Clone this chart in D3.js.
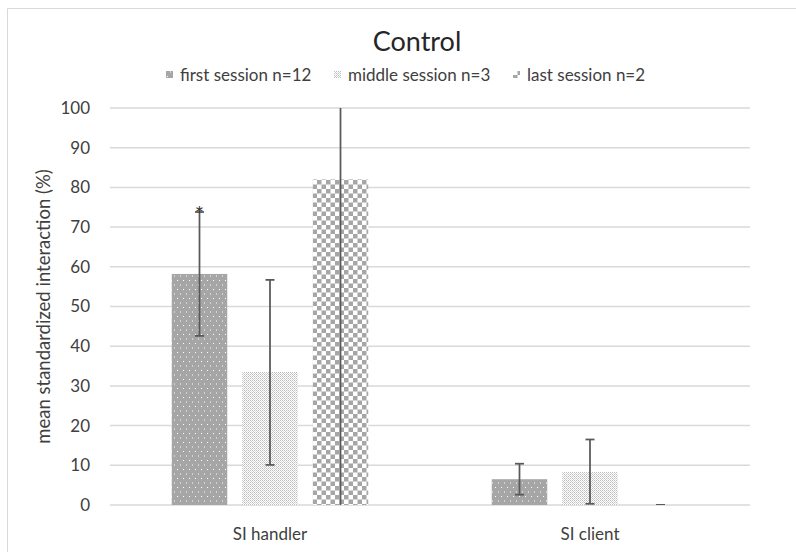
<!DOCTYPE html>
<html>
<head>
<meta charset="utf-8">
<script src="https://cdn.jsdelivr.net/npm/d3@7"></script>
<style>
  body { margin: 0; background: #fff; overflow: hidden; }
  svg { display: block; }
  text { font-family: Lato, "Noto Sans", sans-serif; fill: #404040; }
</style>
</head>
<body>
<div id="chart"></div>
<script>
// data
const categories = ['SI handler', 'SI client'];
const series = ['first session n=12', 'middle session n=3', 'last session n=2'];
const means = [
  [58.2, 6.5],   // first
  [33.5, 8.3],   // middle
  [82.0, 0]      // last
];
const lower = [
  [42.6, 2.6],
  [10.1, 0.3],
  [-18, 0]
];
const upper = [
  [73.8, 10.4],
  [56.7, 16.5],
  [182, 0]
];
const yTicks = [0, 10, 20, 30, 40, 50, 60, 70, 80, 90, 100];

const width = 796;
const height = 552;
const margin = { top: 108, right: 46, bottom: 47, left: 110 };
const innerWidth = width - margin.left - margin.right;
const innerHeight = height - margin.top - margin.bottom;

const svg = d3.select('#chart').append('svg')
  .attr('width', width)
  .attr('height', height);

// outer frame (right and bottom edges fall outside the picture)
svg.append('path')
  .attr('d', 'M7.5,' + height + 'V8.5H' + width)
  .attr('fill', 'none').attr('stroke', '#d9d9d9').attr('stroke-width', 1);

const defs = svg.append('defs');

// dotted fill for first session
const p1 = defs.append('pattern').attr('id', 'pat0')
  .attr('patternUnits', 'userSpaceOnUse').attr('width', 6).attr('height', 9);
p1.append('rect').attr('width', 6).attr('height', 9).attr('fill', '#a6a6a6');
p1.append('rect').attr('x', 1).attr('y', 1).attr('width', 1).attr('height', 1).attr('fill', '#fff');
p1.append('rect').attr('x', 4).attr('y', 5.5).attr('width', 1).attr('height', 1).attr('fill', '#fff');

// fine lattice for middle session
const p2 = defs.append('pattern').attr('id', 'pat1')
  .attr('patternUnits', 'userSpaceOnUse').attr('width', 4).attr('height', 4);
p2.append('rect').attr('width', 4).attr('height', 4).attr('fill', '#fff');
p2.append('rect').attr('x', 0).attr('y', 0).attr('width', 1).attr('height', 1).attr('fill', '#bdbdbd');
p2.append('rect').attr('x', 2).attr('y', 0).attr('width', 1).attr('height', 1).attr('fill', '#bdbdbd');
p2.append('rect').attr('x', 1).attr('y', 1).attr('width', 1).attr('height', 1).attr('fill', '#c9c9c9');
p2.append('rect').attr('x', 3).attr('y', 1).attr('width', 1).attr('height', 1).attr('fill', '#e0e0e0');
p2.append('rect').attr('x', 0).attr('y', 2).attr('width', 1).attr('height', 1).attr('fill', '#bdbdbd');
p2.append('rect').attr('x', 2).attr('y', 2).attr('width', 1).attr('height', 1).attr('fill', '#bdbdbd');
p2.append('rect').attr('x', 1).attr('y', 3).attr('width', 1).attr('height', 1).attr('fill', '#e0e0e0');
p2.append('rect').attr('x', 3).attr('y', 3).attr('width', 1).attr('height', 1).attr('fill', '#c9c9c9');

// checkerboard for last session
const p3 = defs.append('pattern').attr('id', 'pat2')
  .attr('patternUnits', 'userSpaceOnUse').attr('width', 9).attr('height', 9);
p3.append('rect').attr('width', 9).attr('height', 9).attr('fill', '#fff');
p3.append('rect').attr('x', 0).attr('y', 0).attr('width', 4.5).attr('height', 4.5).attr('fill', '#a6a6a6');
p3.append('rect').attr('x', 4.5).attr('y', 4.5).attr('width', 4.5).attr('height', 4.5).attr('fill', '#a6a6a6');

defs.append('clipPath').attr('id', 'plotclip')
  .append('rect').attr('x', 0).attr('y', 0).attr('width', innerWidth).attr('height', innerHeight);

const x = d3.scaleBand().domain(categories).range([0, innerWidth]);
const xs = d3.scaleBand().domain(series).range([0, x.bandwidth()])
  .paddingInner(0.213).paddingOuter(0.876);
const y = d3.scaleLinear().domain([0, 100]).range([innerHeight, 0]);

const g = svg.append('g').attr('transform', 'translate(' + margin.left + ',' + margin.top + ')');

// gridlines
g.append('g').selectAll('line').data(yTicks).join('line')
  .attr('x1', 0).attr('x2', innerWidth)
  .attr('y1', (d) => y(d)).attr('y2', (d) => y(d))
  .attr('stroke', '#d9d9d9').attr('stroke-width', 1.5);

// y tick labels
g.append('g').selectAll('text').data(yTicks).join('text')
  .attr('x', -20).attr('y', (d) => y(d))
  .attr('dy', '0.35em').attr('text-anchor', 'end')
  .style('font-size', '17px')
  .text((d) => d);

// bars
const plot = g.append('g').attr('clip-path', 'url(#plotclip)');
series.forEach((s, si) => {
  const grp = plot.append('g');
  grp.selectAll('rect').data(categories).join('rect')
    .attr('x', (c) => x(c) + xs(s))
    .attr('y', (c, ci) => y(means[si][ci]))
    .attr('width', xs.bandwidth())
    .attr('height', (c, ci) => y(0) - y(means[si][ci]))
    .attr('fill', 'url(#pat' + si + ')');
});

// error bars
series.forEach((s, si) => {
  categories.forEach((c, ci) => {
    const cx = x(c) + xs(s) + xs.bandwidth() / 2;
    const eb = plot.append('g').attr('stroke', '#595959').attr('stroke-width', 1.75);
    eb.append('line')
      .attr('x1', cx).attr('x2', cx)
      .attr('y1', y(lower[si][ci])).attr('y2', y(upper[si][ci]));
    [lower[si][ci], upper[si][ci]].forEach((v) => {
      eb.append('line')
        .attr('x1', cx - 4.5).attr('x2', cx + 4.5)
        .attr('y1', y(v)).attr('y2', y(v));
    });
  });
});

// significance mark
g.append('text')
  .attr('x', x(categories[0]) + xs(series[0]) + xs.bandwidth() / 2)
  .attr('y', y(upper[0][0]) + 10)
  .attr('text-anchor', 'middle')
  .style('font-size', '22px')
  .style('fill', '#303030')
  .text('*');

// category labels
g.append('g').selectAll('text').data(categories).join('text')
  .attr('x', (c) => x(c) + x.bandwidth() / 2)
  .attr('y', innerHeight + 35)
  .attr('text-anchor', 'middle')
  .style('font-size', '17px')
  .text((c) => c);

// y axis title
svg.append('text')
  .attr('transform', 'translate(50,' + (margin.top + innerHeight / 2) + ') rotate(-90)')
  .attr('text-anchor', 'middle')
  .style('font-size', '18.5px')
  .text('mean standardized interaction (%)');

// title
svg.append('text')
  .attr('x', 417).attr('y', 51)
  .attr('text-anchor', 'middle')
  .style('font-size', '27px')
  .style('fill', '#262626')
  .text('Control');

// legend
const legendX = [166, 334, 513];
const legend = svg.append('g');
series.forEach((s, si) => {
  const item = legend.append('g').attr('transform', 'translate(' + legendX[si] + ',75)');
  item.append('rect').attr('x', 0).attr('y', -4).attr('width', 7).attr('height', 7)
    .attr('fill', 'url(#pat' + si + ')');
  item.append('text').attr('x', 14).attr('y', 0).attr('dy', '0.35em')
    .style('font-size', '17px').text(s);
});
</script>
</body>
</html>
